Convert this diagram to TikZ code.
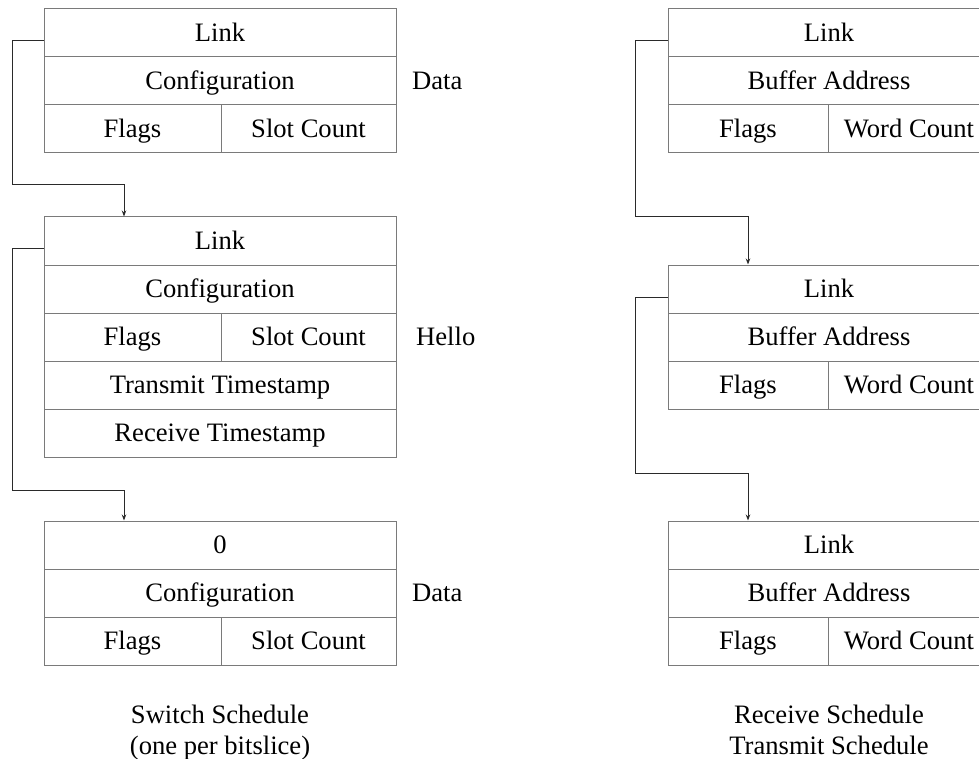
\documentclass[tikz,border=0pt]{standalone}
\usepackage{fontspec}
\setmainfont{Liberation Serif}
\usetikzlibrary{arrows.meta}
\definecolor{boxline}{HTML}{7A7A7A}
\definecolor{connline}{HTML}{2A2A2A}
\tikzset{
  cell/.style={draw=boxline, line width=1pt, inner sep=0pt, minimum height=48pt,
    text height=17.4pt, text depth=0pt, font=\fontsize{26.6pt}{32pt}\selectfont},
  lab/.style={inner sep=0pt, font=\fontsize{26.6pt}{32pt}\selectfont},
  conn/.style={draw=connline, line width=1pt, -{Stealth[length=6pt,width=4.5pt]}}
}
\begin{document}
\begin{tikzpicture}[x=1pt,y=-1pt]
\useasboundingbox (0,0) rectangle (979,759);
\clip (0,0) rectangle (979,759);
% ---------- left column ----------
% box 1 (Data)
\node[cell, minimum width=352pt] (l1link) at (220,33) {Link};
\node[cell, minimum width=352pt] (l1conf) at (220,81) {Configuration};
\node[cell, minimum width=177pt] (l1flags) at (132.5,129) {Flags};
\node[cell, minimum width=175pt] (l1slot) at (308.5,129) {Slot Count};
% box 2 (Hello)
\node[cell, minimum width=352pt] (l2link) at (220,241) {Link};
\node[cell, minimum width=352pt] (l2conf) at (220,289) {Configuration};
\node[cell, minimum width=177pt] (l2flags) at (132.5,337) {Flags};
\node[cell, minimum width=175pt] (l2slot) at (308.5,337) {Slot Count};
\node[cell, minimum width=352pt] (l2tx) at (220,385) {Transmit Timestamp};
\node[cell, minimum width=352pt] (l2rx) at (220,433) {Receive Timestamp};
% box 3 (Data)
\node[cell, minimum width=352pt] (l3zero) at (220,545) {0};
\node[cell, minimum width=352pt] (l3conf) at (220,593) {Configuration};
\node[cell, minimum width=177pt] (l3flags) at (132.5,641) {Flags};
\node[cell, minimum width=175pt] (l3slot) at (308.5,641) {Slot Count};
% side labels
\node[lab, anchor=base west] (data1) at (412,89.7) {Data};
\node[lab, anchor=base west] (hello) at (416,345.7) {Hello};
\node[lab, anchor=base west] (data3) at (412,601.7) {Data};
% captions
\node[lab, anchor=base] (capl1) at (220,723) {Switch Schedule};
\node[lab, anchor=base] (capl2) at (220,754) {(one per bitslice)};
% connectors
\draw[conn] ([yshift=-8pt]l1link.west) -- ++(-31,0) -- ++(0,144) -| ([xshift=-96pt]l2link.north);
\draw[conn] ([yshift=-8pt]l2link.west) -- ++(-31,0) -- ++(0,241) -| ([xshift=-96pt]l3zero.north);
% ---------- right column ----------
\node[cell, minimum width=322pt] (r1link) at (829,33) {Link};
\node[cell, minimum width=322pt] (r1buf) at (829,81) {Buffer Address};
\node[cell, minimum width=160pt] (r1flags) at (748,129) {Flags};
\node[cell, minimum width=162pt] (r1wc) at (909,129) {Word Count};
\node[cell, minimum width=322pt] (r2link) at (829,289) {Link};
\node[cell, minimum width=322pt] (r2buf) at (829,337) {Buffer Address};
\node[cell, minimum width=160pt] (r2flags) at (748,385) {Flags};
\node[cell, minimum width=162pt] (r2wc) at (909,385) {Word Count};
\node[cell, minimum width=322pt] (r3link) at (829,545) {Link};
\node[cell, minimum width=322pt] (r3buf) at (829,593) {Buffer Address};
\node[cell, minimum width=160pt] (r3flags) at (748,641) {Flags};
\node[cell, minimum width=162pt] (r3wc) at (909,641) {Word Count};
\node[lab, anchor=base] (capr1) at (829,723) {Receive Schedule};
\node[lab, anchor=base] (capr2) at (829,754) {Transmit Schedule};
\draw[conn] ([yshift=-8pt]r1link.west) -- ++(-32,0) -- ++(0,176) -| ([xshift=-81pt]r2link.north);
\draw[conn] ([yshift=-8pt]r2link.west) -- ++(-32,0) -- ++(0,176) -| ([xshift=-81pt]r3link.north);
\end{tikzpicture}
\end{document}
